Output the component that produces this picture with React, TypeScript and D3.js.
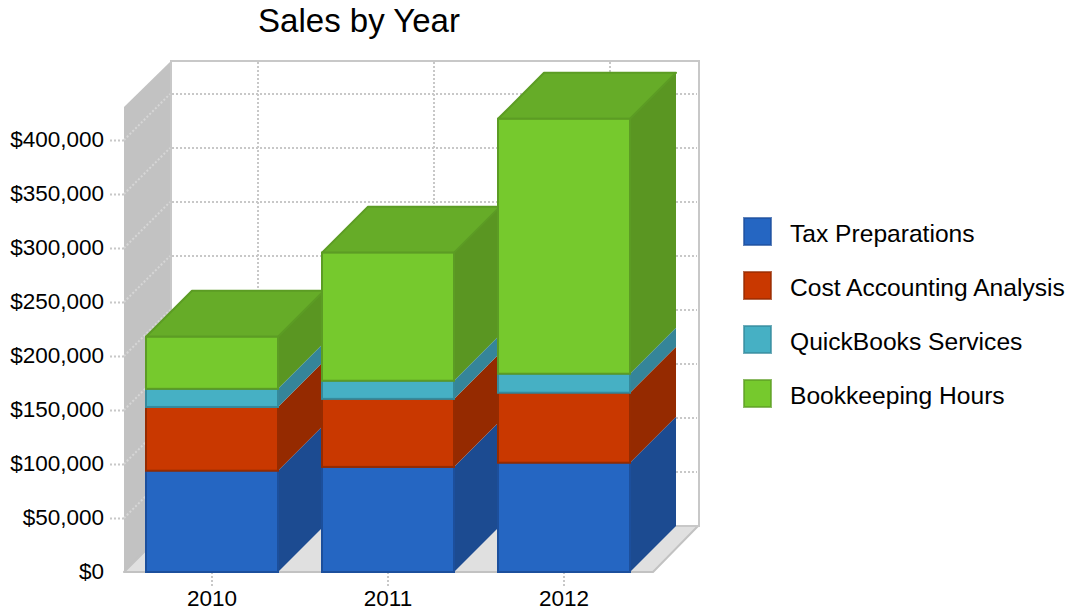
import { useEffect, useRef } from "react";
import * as d3 from "d3";

const years = ["2010", "2011", "2012"];
const seriesNames = [
  "Tax Preparations",
  "Cost Accounting Analysis",
  "QuickBooks Services",
  "Bookkeeping Hours",
];
const taxPreparations = [93800, 97300, 101200];
const costAccounting = [59000, 63000, 64800];
const quickBooks = [16800, 16800, 17600];
const bookkeeping = [48200, 118600, 236000];
const seriesValues = [taxPreparations, costAccounting, quickBooks, bookkeeping];
const yTicks = [0, 50000, 100000, 150000, 200000, 250000, 300000, 350000, 400000];

const frontColors = ["#2566c2", "#c93800", "#46b0c4", "#76c92d"];
const sideColors = ["#1c4b91", "#952a00", "#358599", "#5a9622"];
const strokeColors = ["#1c4f9c", "#962b00", "#358a9c", "#5c9c24"];
const topColor = "#66ac28";

const fontFamily = "Arial, 'Liberation Sans', sans-serif";

export default function App() {
  const svgRef = useRef<SVGSVGElement | null>(null);

  useEffect(() => {
    const svg = d3.select(svgRef.current);
    svg.selectAll("*").remove();

    const depthX = 46;
    const depthY = 46;
    const yScale = d3.scaleLinear().domain([0, 400000]).range([572, 140]);
    const xScale = d3
      .scaleBand()
      .domain(years)
      .range([124, 652])
      .paddingInner(0.25)
      .paddingOuter(0.125);

    const left = xScale.range()[0];
    const right = xScale.range()[1];
    const bottom = yScale(0);
    const wallTop = 107;
    const line = d3.line();

    // walls and floor
    svg
      .append("path")
      .attr("d", line([[left, bottom], [left, wallTop], [left + depthX + 1, wallTop - depthY], [left + depthX + 1, bottom - depthY]]) + "Z")
      .attr("fill", "#c2c2c2");
    svg
      .append("path")
      .attr("d", line([[left, bottom], [right + 1, bottom], [right + depthX, bottom - depthY], [left + depthX, bottom - depthY]]) + "Z")
      .attr("fill", "#e0e0e0")
      .attr("stroke", "#c2c2c2")
      .attr("stroke-width", 2)
      .attr("stroke-linejoin", "round");
    svg
      .append("rect")
      .attr("x", left + depthX + 1)
      .attr("y", wallTop - depthY)
      .attr("width", right - left)
      .attr("height", bottom - wallTop)
      .attr("fill", "#fff")
      .attr("stroke", "#c8c8c8")
      .attr("stroke-width", 2);

    const dotted = (sel: any, color = "#c8c8c8") =>
      sel.attr("stroke", color).attr("stroke-width", 2).attr("stroke-dasharray", "2 2").attr("fill", "none");

    // gridlines on the back wall and the left wall
    const backGrid = svg.append("g");
    yTicks.slice(1).forEach((t) => {
      dotted(backGrid.append("line"))
        .attr("x1", left + depthX + 2)
        .attr("x2", right + depthX - 1)
        .attr("y1", yScale(t) - depthY)
        .attr("y2", yScale(t) - depthY);
      dotted(backGrid.append("line"), "#d6d6d6")
        .attr("x1", left)
        .attr("x2", left + depthX)
        .attr("y1", yScale(t))
        .attr("y2", yScale(t) - depthY);
    });
    years.forEach((yr) => {
      const cx = xScale(yr)! + xScale.bandwidth() / 2 + depthX;
      dotted(backGrid.append("line"))
        .attr("x1", cx)
        .attr("x2", cx)
        .attr("y1", wallTop - depthY + 1)
        .attr("y2", bottom - depthY);
    });

    // axes
    const yAxis = svg
      .append("g")
      .attr("transform", `translate(${left},0)`)
      .call(d3.axisLeft(yScale).tickValues(yTicks).tickFormat(d3.format("$,")).tickSize(14).tickPadding(6));
    const xAxis = svg
      .append("g")
      .attr("transform", `translate(0,${bottom})`)
      .call(d3.axisBottom(xScale).tickSize(14).tickPadding(4));
    [yAxis, xAxis].forEach((axis) => {
      axis.select(".domain").remove();
      dotted(axis.selectAll("line"));
      axis.selectAll("text").attr("fill", "#000").attr("font-size", 22.5).attr("font-family", fontFamily);
    });
    yAxis.select(".tick line").remove();
    yAxis.selectAll("text").attr("dy", "0.27em");
    xAxis.selectAll("text").attr("dy", "0.72em");

    // stacked boxes, left to right, bottom to top
    const stacked = d3.stack<number>().keys(seriesNames.map((_, i) => String(i))).value((yearIndex, key) => seriesValues[+key][yearIndex])(
      years.map((_, i) => i)
    );
    years.forEach((yr, yi) => {
      const x0 = xScale(yr)!;
      const x1 = x0 + xScale.bandwidth();
      stacked.forEach((layer, si) => {
        const y0 = yScale(layer[yi][0]);
        const y1 = yScale(layer[yi][1]);
        svg
          .append("path")
          .attr("d", line([[x1, y0], [x1 + depthX, y0 - depthY], [x1 + depthX, y1 - depthY], [x1, y1]]) + "Z")
          .attr("fill", sideColors[si]);
        if (si === stacked.length - 1) {
          svg
            .append("path")
            .attr("d", line([[x0, y1], [x0 + depthX, y1 - depthY], [x1 + depthX, y1 - depthY], [x1, y1]]) + "Z")
            .attr("fill", topColor)
            .attr("stroke", strokeColors[si])
            .attr("stroke-width", 2)
            .attr("stroke-linejoin", "round");
        }
        svg
          .append("rect")
          .attr("x", x0)
          .attr("y", y1)
          .attr("width", x1 - x0)
          .attr("height", y0 - y1)
          .attr("fill", frontColors[si])
          .attr("stroke", strokeColors[si])
          .attr("stroke-width", 2);
      });
    });

    // title
    svg
      .append("text")
      .attr("x", 359)
      .attr("y", 32)
      .attr("text-anchor", "middle")
      .attr("font-size", 33)
      .attr("font-family", fontFamily)
      .text("Sales by Year");

    // legend
    const legendY = d3.scalePoint().domain(seriesNames).range([232, 394]);
    seriesNames.forEach((name, i) => {
      const cy = legendY(name)!;
      svg
        .append("rect")
        .attr("x", 744)
        .attr("y", cy - 14)
        .attr("width", 27)
        .attr("height", 27)
        .attr("fill", frontColors[i])
        .attr("stroke", strokeColors[i])
        .attr("stroke-opacity", 0.7)
        .attr("stroke-width", 2);
      svg
        .append("text")
        .attr("x", 790)
        .attr("y", cy + 10)
        .attr("font-size", 24.6)
        .attr("font-family", fontFamily)
        .text(name);
    });
  }, []);

  return (
    <svg
      ref={svgRef}
      width={1071}
      height={615}
      style={{ position: "absolute", left: 0, top: 0, background: "#fff" }}
    />
  );
}
